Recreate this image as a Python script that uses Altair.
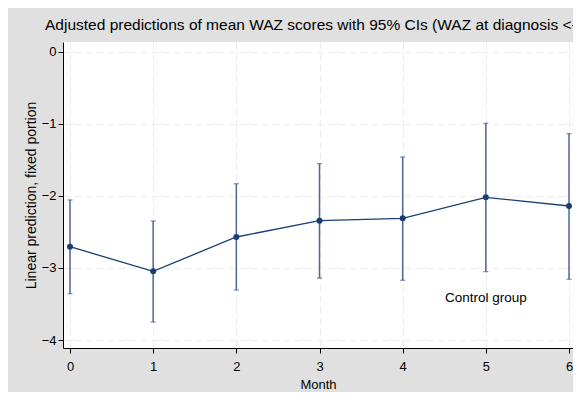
import altair as alt
import pandas as pd

months = [0, 1, 2, 3, 4, 5, 6]
pred = [-2.705, -3.046, -2.570, -2.344, -2.311, -2.020, -2.140]
ci_hi = [-2.057, -2.348, -1.831, -1.553, -1.460, -0.993, -1.137]
ci_lo = [-3.357, -3.749, -3.305, -3.139, -3.171, -3.051, -3.157]

label_text = ["Control group"]
label_x = [5]
label_y = [-3.41]

y_ticks = [0, -1, -2, -3, -4]
x_ticks = [0, 1, 2, 3, 4, 5, 6]

df = pd.DataFrame({"month": months, "pred": pred, "hi": ci_hi, "lo": ci_lo})
lab = pd.DataFrame({"text": label_text, "x": label_x, "y": label_y})

NAVY = "#1a3f73"
BAR = "#4f6791"
FONT = "Liberation Sans"

xs = alt.Scale(domain=[-0.0842, 6.048], nice=False, zero=False)
ys = alt.Scale(domain=[-4.11, 0.135], nice=False, zero=False)

xenc = alt.X("month:Q", scale=xs,
             axis=alt.Axis(values=x_ticks, title="Month", format="d",
                           grid=True, gridDash=[7, 4], gridColor="#ebebeb",
                           domainColor="#000000", tickColor="#000000",
                           tickSize=5, labelPadding=7, titlePadding=5,
                           labelFontSize=13, titleFontSize=13,
                           labelColor="#000000", titleColor="#000000",
                           titleFontWeight="normal", labelFont=FONT, titleFont=FONT))
yenc_axis = alt.Axis(values=y_ticks, title="Linear prediction, fixed portion", format="d",
                     grid=True, gridDash=[7, 4], gridColor="#ebebeb",
                     domainColor="#000000", tickColor="#000000",
                     tickSize=5, labelPadding=2, titlePadding=3,
                     labelFontSize=13, titleFontSize=14,
                     labelColor="#000000", titleColor="#000000",
                     titleFontWeight="normal", labelFont=FONT, titleFont=FONT)

base = alt.Chart(df)

rules = base.mark_rule(color=BAR, strokeWidth=1.5).encode(
    x=xenc,
    y=alt.Y("lo:Q", scale=ys, axis=yenc_axis),
    y2="hi:Q",
)
cap_lo = base.mark_tick(orient="horizontal", size=5, thickness=1.3, color=BAR).encode(
    x=alt.X("month:Q", scale=xs), y=alt.Y("lo:Q", scale=ys))
cap_hi = base.mark_tick(orient="horizontal", size=5, thickness=1.3, color=BAR).encode(
    x=alt.X("month:Q", scale=xs), y=alt.Y("hi:Q", scale=ys))
line = base.mark_line(color=NAVY, strokeWidth=1.3).encode(
    x=alt.X("month:Q", scale=xs), y=alt.Y("pred:Q", scale=ys))
pts = base.mark_circle(color=NAVY, opacity=1, size=36).encode(
    x=alt.X("month:Q", scale=xs), y=alt.Y("pred:Q", scale=ys))
txt = alt.Chart(lab).mark_text(font=FONT, fontSize=13.5, color="#000000",
                               align="center", baseline="middle").encode(
    x=alt.X("x:Q", scale=xs), y=alt.Y("y:Q", scale=ys), text="text:N")

chart = alt.layer(rules, cap_lo, cap_hi, line, pts, txt).properties(
    width=510, height=306,
    autosize=alt.AutoSizeParams(type="none"),
    padding={"left": 55, "top": 34, "right": 0, "bottom": 44},
    background="#e0e0e0",
    title=alt.TitleParams(
        "Adjusted predictions of mean WAZ scores with 95% CIs (WAZ at diagnosis <-2)",
        anchor="start", frame="group", dx=-18, offset=9, font=FONT,
        fontSize=15.5, fontWeight="normal", color="#000000"),
).configure_view(fill="#ffffff", stroke=None)

chart.save("out.html", embed_options={"renderer": "svg", "actions": False})
